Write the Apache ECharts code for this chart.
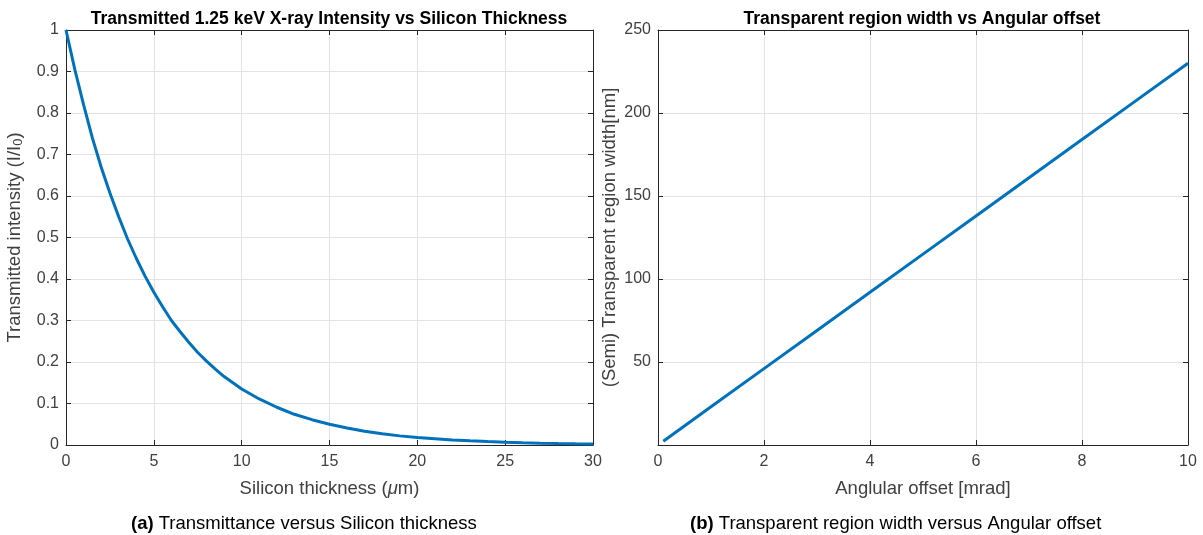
<!DOCTYPE html>
<html>
<head>
<meta charset="utf-8">
<script src="https://cdn.jsdelivr.net/npm/echarts@6/dist/echarts.min.js"></script>
<style>html,body{margin:0;padding:0;background:#fff;}#c{width:1203px;height:535px;}</style>
</head>
<body>
<div id="c"></div>
<script>
// Left panel: transmitted intensity vs silicon thickness
const thickness = [0,0.5,1,1.5,2,2.5,3,3.5,4,4.5,5,5.5,6,6.5,7,7.5,8,8.5,9,9.5,10,11,12,13,14,15,16,17,18,19,20,21,22,23,24,25,26,27,28,29,30];
const intensity = [1,0.905,0.82,0.74,0.67,0.607,0.55,0.497,0.45,0.407,0.368,0.333,0.30,0.273,0.247,0.223,0.202,0.183,0.165,0.15,0.135,0.111,0.091,0.074,0.061,0.050,0.041,0.033,0.027,0.022,0.018,0.015,0.012,0.010,0.0082,0.0067,0.0055,0.0045,0.0037,0.003,0.0025];
// Right panel: transparent region width vs angular offset
const offset = [0.1,1,2,3,4,5,6,7,8,9,10];
const width = [2.3,23,46,69,92,115,138,161,184,207,230];
const xTicksLeft = [0,5,10,15,20,25,30];
const yTicksLeft = [0,0.1,0.2,0.3,0.4,0.5,0.6,0.7,0.8,0.9,1];
const xTicksRight = [0,2,4,6,8,10];
const yTicksRight = [50,100,150,200,250];

const FONT = '"Liberation Sans", Arial, Helvetica, sans-serif';
const AX = '#262626';
const LBL = '#404040';
const GRID = '#e3e3e3';

function mainAxis(min, max, interval, gridIndex, isX, name, nameGap, fmt) {
  return {
    type: 'value', gridIndex, min, max, interval,
    position: isX ? 'bottom' : 'left',
    name, nameLocation: 'middle', nameGap,
    nameTextStyle: { fontFamily: FONT, fontSize: 18.5, color: LBL,
      rich: { sub: { fontSize: 13, verticalAlign: 'bottom', color: LBL, fontFamily: FONT, padding: [8,0,0,0] },
              it: { fontStyle: 'italic', fontSize: 18.5, color: LBL, fontFamily: FONT } } },
    axisLine: { show: true, onZero: false, lineStyle: { color: AX, width: 1 } },
    axisTick: { show: true, inside: true, length: 5, lineStyle: { color: AX } },
    axisLabel: { fontFamily: FONT, fontSize: 16, color: LBL, margin: isX ? 9 : 7, formatter: fmt },
    splitLine: { show: true, lineStyle: { color: GRID, width: 1 } }
  };
}
function boxAxis(min, max, interval, gridIndex, isX) {
  return {
    type: 'value', gridIndex, min, max, interval,
    position: isX ? 'top' : 'right',
    axisLine: { show: true, onZero: false, lineStyle: { color: AX, width: 1 } },
    axisTick: { show: true, inside: true, length: 5, lineStyle: { color: AX } },
    axisLabel: { show: false },
    splitLine: { show: false }
  };
}

const capStyle = { fontFamily: FONT, fontSize: 18.5, fontWeight: 'normal', color: '#000',
  rich: { b: { fontWeight: 'bold', fontFamily: FONT, fontSize: 18.5, color: '#000' } } };

const option = {
  backgroundColor: '#fff',
  animation: false,
  title: [
    { text: 'Transmitted 1.25 keV X-ray Intensity vs Silicon Thickness', left: 324, top: 5, textAlign: 'center',
      textStyle: { fontFamily: FONT, fontSize: 17.5, fontWeight: 'bold', color: '#000' } },
    { text: 'Transparent region width vs Angular offset', left: 917, top: 5, textAlign: 'center',
      textStyle: { fontFamily: FONT, fontSize: 17.5, fontWeight: 'bold', color: '#000' } },
    { text: '{b|(a)} Transmittance versus Silicon thickness', left: 126, top: 509, textStyle: capStyle },
    { text: '{b|(b)} Transparent region width versus Angular offset', left: 685, top: 509, textStyle: capStyle }
  ],
  grid: [
    { left: 66, right: 610, top: 30, bottom: 90, containLabel: false },
    { left: 658, right: 15, top: 30, bottom: 90, containLabel: false }
  ],
  xAxis: [
    mainAxis(xTicksLeft[0], xTicksLeft[xTicksLeft.length-1], 5, 0, true, 'Silicon thickness ({it|\u03bc}m)', 34),
    mainAxis(xTicksRight[0], xTicksRight[xTicksRight.length-1], 2, 1, true, 'Anglular offset [mrad]', 34),
    boxAxis(0, 30, 5, 0, true),
    boxAxis(0, 10, 2, 1, true)
  ],
  yAxis: [
    mainAxis(yTicksLeft[0], yTicksLeft[yTicksLeft.length-1], 0.1, 0, false, 'Transmitted intensity (I/I{sub|0})', 41,
      v => String(Math.round(v*10)/10)),
    mainAxis(0, yTicksRight[yTicksRight.length-1], 50, 1, false, '(Semi) Transparent region width[nm]', 39,
      v => (yTicksRight.indexOf(v) >= 0 ? String(v) : '')),
    boxAxis(0, 1, 0.1, 0, false),
    boxAxis(0, 250, 50, 1, false)
  ],
  series: [
    { type: 'line', xAxisIndex: 0, yAxisIndex: 0, data: thickness.map((x,i)=>[x,intensity[i]]),
      showSymbol: false, smooth: false, lineStyle: { color: '#0072BD', width: 3 }, itemStyle: { color: '#0072BD' } },
    { type: 'line', xAxisIndex: 1, yAxisIndex: 1, data: offset.map((x,i)=>[x,width[i]]),
      showSymbol: false, lineStyle: { color: '#0072BD', width: 3 }, itemStyle: { color: '#0072BD' } }
  ]
};
echarts.init(document.getElementById('c'), null, { renderer: 'canvas' }).setOption(option);
</script>
</body>
</html>
